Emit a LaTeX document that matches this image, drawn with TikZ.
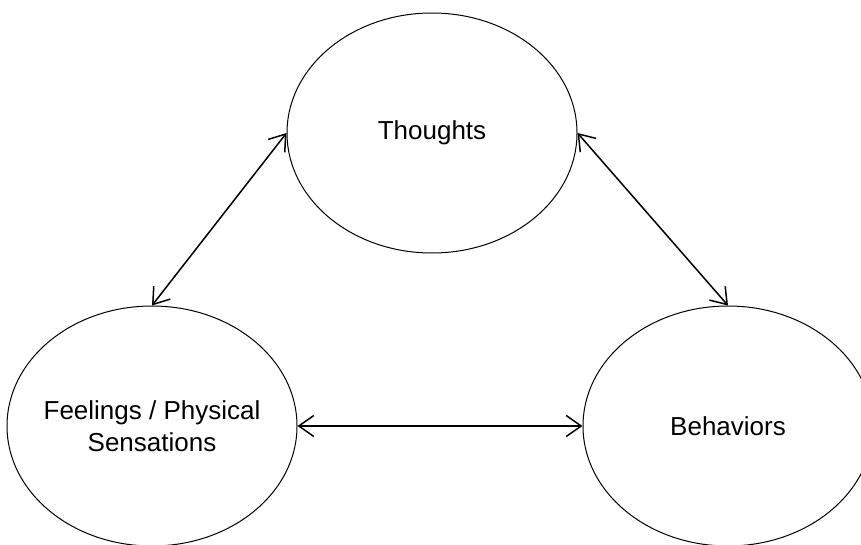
\documentclass[tikz,border=0pt]{standalone}
\usepackage{fontspec}
\setmainfont{Liberation Sans}
\usetikzlibrary{shapes.geometric,arrows.meta}

\tikzset{
	bubble/.style={draw,ellipse,line width=1pt,minimum width=290pt,minimum height=240pt,inner sep=-50pt,align=center,font=\fontsize{26}{32}\selectfont},
	link/.style={{Straight Barb[length=15pt,width=21pt]}-{Straight Barb[length=15pt,width=21pt]},line width=1.5pt}
}

\begin{document}
\begin{tikzpicture}[x=1pt,y=-1pt]
		\useasboundingbox (0,0) rectangle (861,545);
		\node[bubble] (thoughts) at (432,133) {Thoughts};
		\node[bubble] (feelings) at (152,426) {Feelings / Physical\\Sensations};
		\node[bubble] (behaviors) at (728,426) {Behaviors};
		\draw[link] (thoughts.west) -- (feelings.north);
		\draw[link] (thoughts.east) -- (behaviors.north);
		\draw[link] (feelings.east) -- (behaviors.west);
		\end{tikzpicture}
\end{document}
